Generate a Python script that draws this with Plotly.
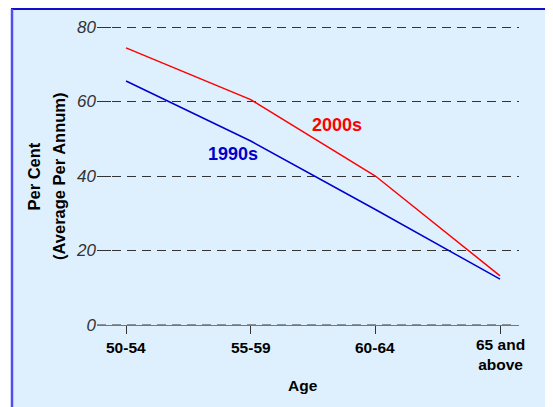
import plotly.graph_objects as go

categories = ["50-54", "55-59", "60-64", "65 and<br>above"]
s2000 = [74.4, 60.5, 40.0, 13.2]
s1990 = [65.5, 49.4, 31.0, 12.3]
y_ticks = [0, 20, 40, 60, 80]

# page body has an 8px margin: figure pixel = screen pixel - 8
OFF = 8
FW, FH = 553 - OFF, 407 - OFF
# plot area in screen pixels: x 97..519, y 26..325
SL, SR, ST, SB = 97, 519, 26, 325
L, R, T, B = SL - OFF, SR - OFF, ST - OFF, SB - OFF
W, H = R - L, B - T
def px(x):  # screen x -> paper
    return (x - SL) / W
def py(y):  # screen y -> paper
    return (SB - y) / H

FONT = "Arial, Liberation Sans, Helvetica, sans-serif"
xs = list(range(len(categories)))

fig = go.Figure()
fig.add_trace(go.Scatter(x=xs, y=s1990, mode="lines", line=dict(color="#0000CC", width=1.5),
                         name="1990s", showlegend=False, hoverinfo="skip"))
fig.add_trace(go.Scatter(x=xs, y=s2000, mode="lines", line=dict(color="#FF0000", width=1.5),
                         name="2000s", showlegend=False, hoverinfo="skip"))

shapes = [
    dict(type="rect", xref="paper", yref="paper", x0=px(12), x1=px(550), y0=py(420), y1=py(9),
         fillcolor="#DEF0FE", line=dict(width=0), layer="below"),
    dict(type="line", xref="paper", yref="paper", x0=px(11), x1=px(551), y0=py(9), y1=py(9),
         line=dict(color="#1010CC", width=2), layer="below"),
    dict(type="line", xref="paper", yref="paper", x0=px(12), x1=px(12), y0=py(9), y1=py(420),
         line=dict(color="#5050F0", width=2.5), layer="below"),
    dict(type="line", xref="paper", yref="paper", x0=px(550), x1=px(550), y0=py(9), y1=py(420),
         line=dict(color="#6060F0", width=2.5), layer="below"),
    # dashed overlay on the zero line
    dict(type="line", xref="paper", yref="y", x0=0, x1=px(514), y0=0, y1=0,
         line=dict(color="#333333", width=1, dash="9px,6px"), layer="above"),
]

annotations = [
    dict(text="<b>2000s</b>", x=1.696, y=53.7, xref="x", yref="y", showarrow=False,
         font=dict(family=FONT, size=18, color="#FF0000")),
    dict(text="<b>1990s</b>", x=0.856, y=45.9, xref="x", yref="y", showarrow=False,
         font=dict(family=FONT, size=18, color="#0000CC")),
    dict(text="<b>Per Cent</b>", x=px(33.5), y=py(177), xref="paper", yref="paper", showarrow=False,
         textangle=-90, xanchor="center", yanchor="middle",
         font=dict(family=FONT, size=16.5, color="#000000")),
    dict(text="<b>(Average Per Annum)</b>", x=px(59), y=py(177), xref="paper", yref="paper", showarrow=False,
         textangle=-90, xanchor="center", yanchor="middle",
         font=dict(family=FONT, size=16.5, color="#000000")),
    dict(text="<b>Age</b>", x=px(303), y=py(385), xref="paper", yref="paper", showarrow=False,
         xanchor="center", yanchor="middle",
         font=dict(family=FONT, size=15.5, color="#000000")),
]
# category labels
for i, c in enumerate(categories):
    nlines = c.count("<br>") + 1
    txt = "<br>".join(f"<b>{p}</b>" for p in c.split("<br>"))
    annotations.append(dict(text=txt, x=i, y=py(347 + 7 * (nlines - 1)), xref="x", yref="paper",
                            showarrow=False, xanchor="center", yanchor="middle",
                            font=dict(family=FONT, size=15.5, color="#000000")))

fig.update_layout(
    width=FW, height=FH,
    margin=dict(l=L, r=FW - R, t=T, b=FH - B, pad=0),
    paper_bgcolor="#FFFFFF",
    plot_bgcolor="rgba(0,0,0,0)",
    shapes=shapes,
    annotations=annotations,
    xaxis=dict(
        range=[-0.233, 3.152], tickmode="array", tickvals=xs, ticktext=["" for _ in categories],
        showgrid=False, zeroline=False, showline=True, linecolor="#777777", linewidth=1,
        ticks="outside", ticklen=8, tickcolor="#333333", automargin=False,
    ),
    yaxis=dict(
        range=[0, 80.27], tickmode="array", tickvals=y_ticks,
        ticktext=[f"<i>{v}</i>" for v in y_ticks],
        showgrid=True, gridcolor="#333333", gridwidth=1, griddash="9px,6px",
        zeroline=False, showline=False,
        ticks="inside", ticklen=14, tickcolor="#333333", automargin=False,
        tickfont=dict(family=FONT, size=17, color="#333333"),
    ),
)

fig.write_html("out.html")
